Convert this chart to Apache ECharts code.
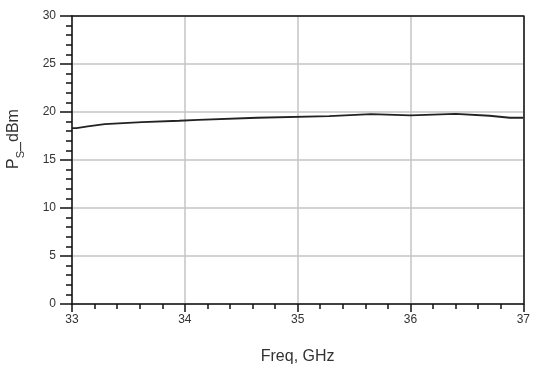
<!DOCTYPE html>
<html>
<head>
<meta charset="utf-8">
<script src="https://cdn.jsdelivr.net/npm/echarts@6/dist/echarts.min.js"></script>
<style>html,body{margin:0;padding:0;background:#fff}#c{width:533px;height:372px}</style>
</head>
<body>
<div id="c"></div>
<script>
// Frequency (GHz) and Ps (dBm)
const freqGHz = [33.0, 33.04, 33.14, 33.29, 33.62, 33.95, 34.12, 34.64, 35.28, 35.65, 36.0, 36.4, 36.7, 36.88, 37.0];
const psDbm   = [18.33, 18.33, 18.50, 18.74, 18.95, 19.09, 19.19, 19.40, 19.57, 19.77, 19.64, 19.81, 19.61, 19.40, 19.40];
const xTicks = [33, 34, 35, 36, 37];
const yTicks = [0, 5, 10, 15, 20, 25, 30];
const xTitle = 'Freq, GHz';
const yTitle = ['P', 'S', '_dBm'];

const chart = echarts.init(document.getElementById('c'), null, {renderer: 'canvas'});
const font = 'Liberation Sans, Arial, sans-serif';
const xMin = xTicks[0], xMax = xTicks[xTicks.length - 1];
const yMin = yTicks[0], yMax = yTicks[yTicks.length - 1];
const blackLine = {color: '#111', width: 1.5};
chart.setOption({
  animation: false,
  backgroundColor: '#fff',
  grid: {left: 72, right: 6, top: 16, bottom: 68},
  graphic: [{
    type: 'text', x: 14, y: 139, rotation: Math.PI / 2,
    style: {
      text: '{a|' + yTitle[0] + '}{b|' + yTitle[1] + '}{a|' + yTitle[2] + '}',
      align: 'center', verticalAlign: 'middle',
      rich: {
        a: {fontFamily: font, fontSize: 16, fill: '#333'},
        b: {fontFamily: font, fontSize: 11, fill: '#333', verticalAlign: 'bottom', padding: [0, 0, -4, 0]}
      }
    }
  }],
  xAxis: [{
    type: 'value', min: xMin, max: xMax, interval: 1,
    name: xTitle, nameLocation: 'middle', nameGap: 45,
    nameTextStyle: {fontFamily: font, fontSize: 16, color: '#333'},
    axisLine: {show: true, lineStyle: blackLine},
    axisTick: {show: true, length: 8, lineStyle: blackLine},
    minorTick: {show: true, splitNumber: 5, length: 5, lineStyle: blackLine},
    axisLabel: {fontFamily: font, fontSize: 12, color: '#333', margin: 10},
    splitLine: {show: true, lineStyle: {color: '#c4c4c4', width: 1.5}}
  }, {
    type: 'value', position: 'top', min: xMin, max: xMax, interval: 1,
    axisLine: {show: true, onZero: false, lineStyle: blackLine},
    axisTick: {show: false}, axisLabel: {show: false}, splitLine: {show: false}
  }],
  yAxis: [{
    type: 'value', min: yMin, max: yMax, interval: 5,
    axisLine: {show: true, lineStyle: blackLine},
    axisTick: {show: true, length: 12, lineStyle: blackLine},
    minorTick: {show: true, splitNumber: 5, length: 6, lineStyle: blackLine},
    axisLabel: {fontFamily: font, fontSize: 12, color: '#333', margin: 16},
    splitLine: {show: true, lineStyle: {color: '#c4c4c4', width: 1.5}}
  }, {
    type: 'value', position: 'right', min: yMin, max: yMax, interval: 5,
    axisLine: {show: true, onZero: false, lineStyle: blackLine},
    axisTick: {show: false}, axisLabel: {show: false}, splitLine: {show: false}
  }],
  series: [{
    type: 'line', showSymbol: false,
    data: freqGHz.map((f, i) => [f, psDbm[i]]),
    lineStyle: {color: '#222', width: 1.8}
  }]
});
</script>
</body>
</html>
